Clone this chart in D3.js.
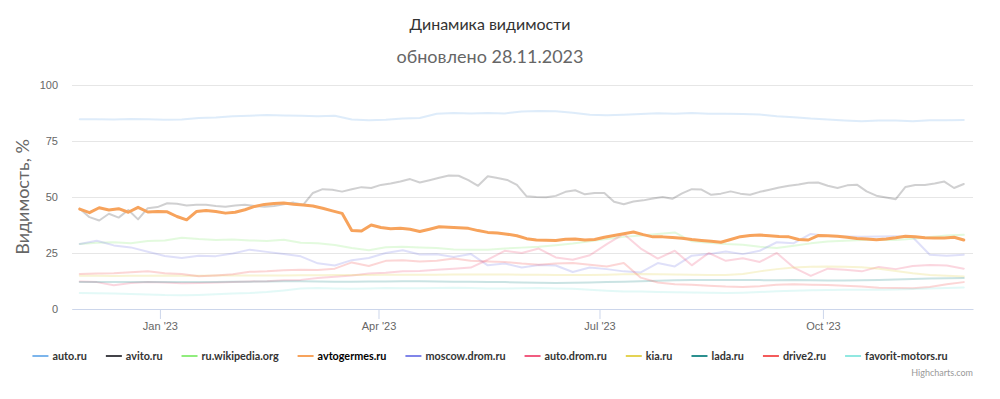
<!DOCTYPE html>
<html>
<head>
<meta charset="utf-8">
<script src="https://cdn.jsdelivr.net/npm/d3@7"></script>
<style>
  body { margin: 0; background: #fff; }
  svg { display: block; font-family: Lato, "Open Sans", sans-serif; }
</style>
</head>
<body>
<script>
// series names and colours (Highcharts default palette)
var names = ["auto.ru","avito.ru","ru.wikipedia.org","avtogermes.ru","moscow.drom.ru","auto.drom.ru","kia.ru","lada.ru","drive2.ru","favorit-motors.ru"];
var colors = ["#7cb5ec","#434348","#90ed7d","#f7a35c","#8085e9","#f15c80","#e4d354","#2b908f","#f45b5b","#91e8e1"];
var active = "avtogermes.ru";

var yTicks = [0, 25, 50, 75, 100];
var xTickDates = ["2023-01-01","2023-04-01","2023-07-01","2023-10-01"];

// weekly readings, 29 Nov 2022 .. 28 Nov 2023
var autoRu = [84.7,84.7,84.6,84.8,84.7,84.5,84.6,85.3,85.5,86,86.3,86.6,86.4,86.3,86.1,86.3,84.6,84.3,84.5,85,85.3,87.2,87.5,87.3,87.5,87.3,88.2,88.4,88.3,87.6,86.7,86.5,86.7,87,87.4,87.2,87.5,87.2,87.2,87,86.8,86,85.6,85,84.6,84.2,83.8,84.1,84.2,83.8,84.3,84.3,84.4];
var wiki = [29,29.6,29.8,29.4,30.4,30.6,31.8,31.2,30.8,31,30.6,30.4,30.9,29.6,29.4,28.6,27.2,26.2,27.6,27.8,27.5,27.2,26.6,26.5,26.4,27,27.4,27.8,28.5,29.2,30.2,31.2,32.2,32.8,33.5,34.2,30.2,29.6,29,28.7,27.8,27.2,28.2,29.3,30.1,30.5,30.8,30.8,30.8,31.4,32.2,32.8,33.1];
var moscowDrom = [29,30.5,28.4,27.5,25.6,23.7,22.8,23.8,23.6,24.8,26.5,25.5,24.6,23.5,20.4,19.4,21.8,22.8,25,26.2,24.3,24.4,23.2,24.6,19.5,20.3,18.5,19.6,19.4,16.5,18.5,17.8,16.8,16.3,20.5,19,23.8,24.5,25.7,24.5,26,29.8,29.4,33.5,32.6,32.4,32.3,32.4,32.5,32,24.2,23.8,24.2];
var autoDrom = [12.3,12,10.6,11.6,12,11.8,11.5,11.6,11.8,12,12.3,12.4,12.8,13,13.8,14.4,15,15.8,16.2,16.8,17,17.5,18,18.5,22,26,25,27,23,22,24,29,33.5,27,22.5,26,19.5,25,21.5,22.7,21,25,18.5,14.8,18,17.5,16.8,18.8,17.8,19.2,19.6,19.4,18];
var kia = [14.8,14.8,14.7,14.8,14.8,14.9,14.8,14.8,14.9,14.9,15,15,15,15.1,15.1,15.2,15.2,15.2,15.3,15.3,15.3,15.3,15.4,15.4,15.4,15.4,15.3,15.3,15.2,15.2,15.2,15.3,15.5,15.6,15.5,15.4,15.3,15.2,15.2,15.6,16.8,17.8,18.5,18.9,19,18.9,18.6,18,17,16,15.2,14.8,14.5];
var lada = [12.1,12.1,12,12,12.1,12,12,12.1,12.1,12.2,12.2,12.3,12.4,12.4,12.3,12.2,12.2,12.3,12.3,12.4,12.4,12.3,12.2,12.2,12.1,12,11.8,11.7,11.6,11.7,11.8,12,12.2,12.4,12.6,12.8,12.9,13,13,13,12.9,12.8,12.9,12.8,12.7,12.7,12.8,13,13.2,13.4,13.6,13.7,13.8];
var drive2 = [15.6,15.8,16,16.4,16.8,16,15.6,14.6,15,15.5,16.6,16.8,17.3,17.5,17.4,18,20.8,19.2,21.5,21.8,21.2,21.5,22.5,21.5,21.2,21,20.3,19.8,20.3,20.5,19.8,19,20.5,14,11.8,11,10.8,10.4,10,9.8,10.2,10.8,11,10.8,10.7,10.4,10,9.5,9.4,9.3,9.8,11,12];
var favorit = [7.1,7,6.9,6.7,6.5,6.2,6.1,6.3,6.6,6.9,7.1,7.6,8.3,9.1,9.4,9.2,9,9.2,9.4,9.3,9.3,9.4,9.5,9.4,9.2,9.1,9.3,9.4,9.2,9,8.6,8.2,7.8,7.8,7.6,7.5,7.4,7.2,7.1,7.3,7.6,7.9,8.2,8.4,8.5,8.6,8.6,8.6,8.7,8.9,9.2,9.4,9.6];

// every 4 days, 29 Nov 2022 .. 28 Nov 2023
var avito = [44.8,41,39.5,42.5,40.8,44.2,40,45,45.5,47.2,47,46.2,46.5,46.5,46,45.7,46.2,46.5,46,45.7,46,46.8,47.5,46.5,51.8,53.5,53.2,52.4,53.5,54.4,54,55.4,56,56.9,58,56.5,57.5,58.6,59.6,59.5,57.5,55,59.3,58.5,57.6,55.4,50.3,50,49.9,50.5,52.3,53,51.2,51.8,51.8,47.9,46.8,48,48.5,49.3,50,49.2,51.6,53.5,53.3,51,51.5,52.5,51.5,51,52.3,53.2,54.2,55,55.6,56.4,56.5,55,54,55.2,55.5,52.5,50.6,49.8,49,54.5,55.4,55.4,56,56.9,54,55.8];
var avtogermes = [44.6,43,45.2,44.2,44.8,43.2,45.4,43.3,43.5,43.4,41.3,39.8,43.5,44,43.5,42.8,43.2,44.3,45.8,46.7,47.1,47.3,46.8,46.4,46,45,43.8,42.7,35,34.8,37.5,36.4,35.8,36.1,35.6,34.6,35.6,36.7,36.5,36.3,36,35,34.2,33.9,33.4,32.7,31.4,30.8,30.7,30.6,31.1,31.2,30.8,31,32,32.8,33.6,34.4,33.2,32.2,32.2,31.9,31.6,31,30.6,30.2,29.8,31,32.3,32.8,33,32.7,32.4,32.2,31,30.8,32.8,32.7,32.5,32,31.5,31.2,30.9,31.3,31.8,32.5,32.3,31.8,31.7,31.7,32,30.8];

var startDay = Date.UTC(2022, 10, 29);
var DAY = 864e5;
function dates(n, step) { return d3.range(n).map(i => new Date(startDay + i * step * DAY)); }
var weeks = dates(53, 7);
var days4 = dates(92, 4);

var series = [
  {name: "auto.ru", dates: weeks, values: autoRu},
  {name: "avito.ru", dates: days4, values: avito},
  {name: "ru.wikipedia.org", dates: weeks, values: wiki},
  {name: "avtogermes.ru", dates: days4, values: avtogermes},
  {name: "moscow.drom.ru", dates: weeks, values: moscowDrom},
  {name: "auto.drom.ru", dates: weeks, values: autoDrom},
  {name: "kia.ru", dates: weeks, values: kia},
  {name: "lada.ru", dates: weeks, values: lada},
  {name: "drive2.ru", dates: weeks, values: drive2},
  {name: "favorit-motors.ru", dates: weeks, values: favorit}
];

const width = 1000, height = 399;
const margin = {top: 85, right: 27, bottom: 90, left: 72};
const innerW = width - margin.left - margin.right;
const innerH = height - margin.top - margin.bottom;

var svg = d3.select("body").append("svg").attr("width", width).attr("height", height);

svg.append("text").attr("x", 490).attr("y", 30).attr("text-anchor", "middle")
  .attr("font-size", 16).attr("fill", "#333").text("Динамика видимости");
svg.append("text").attr("x", 490).attr("y", 63).attr("text-anchor", "middle")
  .attr("font-size", 18).attr("fill", "#666").text("обновлено 28.11.2023");

const g = svg.append("g").attr("transform", `translate(${margin.left},${margin.top})`);

const x = d3.scaleUtc()
  .domain([new Date(startDay - 3.2 * DAY), new Date(startDay + 367.8 * DAY)])
  .range([0, innerW]);
const y = d3.scaleLinear().domain([0, 100]).range([innerH, 0]);

// grid + y labels
const yAxis = d3.axisLeft(y).tickValues(yTicks).tickSize(-innerW).tickPadding(14);
g.append("g").call(yAxis)
  .call(s => s.select(".domain").remove())
  .call(s => s.selectAll("line").attr("stroke", "#e6e6e6"))
  .call(s => s.selectAll("text").attr("fill", "#666").attr("font-size", 11));

// x axis
const xAxis = d3.axisBottom(x)
  .tickValues(xTickDates.map(d => new Date(d + "T00:00:00Z")))
  .tickFormat(d3.utcFormat("%b '%y"))
  .tickSize(10).tickPadding(3).tickSizeOuter(0);
g.append("g").attr("transform", `translate(0,${innerH})`).call(xAxis)
  .call(s => s.select(".domain").attr("stroke", "#ccd6eb"))
  .call(s => s.selectAll("line").attr("stroke", "#ccd6eb"))
  .call(s => s.selectAll("text").attr("fill", "#666").attr("font-size", 11));

svg.append("text").attr("transform", "translate(29,197) rotate(-90)")
  .attr("text-anchor", "middle").attr("font-size", 18).attr("fill", "#666")
  .text("Видимость, %");

const line = d3.line().x(d => x(d[0])).y(d => y(d[1]));

// faded series first, highlighted on top
var order = series.filter(s => s.name != active).concat(series.filter(s => s.name == active));
g.selectAll(".series").data(order).enter().append("path")
  .attr("class", "series")
  .attr("fill", "none")
  .attr("stroke", s => colors[names.indexOf(s.name)])
  .attr("stroke-width", s => s.name == active ? 3 : 2)
  .attr("stroke-opacity", s => s.name == active ? 1 : 0.25)
  .attr("stroke-linejoin", "round").attr("stroke-linecap", "round")
  .attr("d", s => line(s.dates.map((d, i) => [d, s.values[i]])));

// legend, centred
var legend = svg.append("g").attr("font-size", 10.8).attr("font-weight", "bold");
var items = legend.selectAll("g").data(names).enter().append("g");
items.append("line").attr("x1", 0).attr("x2", 16).attr("y1", 0).attr("y2", 0)
  .attr("stroke", (d, i) => colors[i]).attr("stroke-width", 2);
items.append("text").attr("x", 20).attr("y", 4)
  .attr("fill", d => d == active ? "#000" : "#333").text(d => d);
var pos = 0;
items.each(function () {
  var w = this.querySelector("text").getComputedTextLength();
  d3.select(this).attr("data-x", pos);
  pos += 20 + w + 19;
});
var total = pos - 19;
items.attr("transform", function () { return `translate(${490 - total / 2 + (+this.getAttribute("data-x"))},356)`; });

svg.append("text").attr("x", 973).attr("y", 376).attr("text-anchor", "end")
  .attr("font-size", 9).attr("fill", "#999").text("Highcharts.com");
</script>
</body>
</html>
